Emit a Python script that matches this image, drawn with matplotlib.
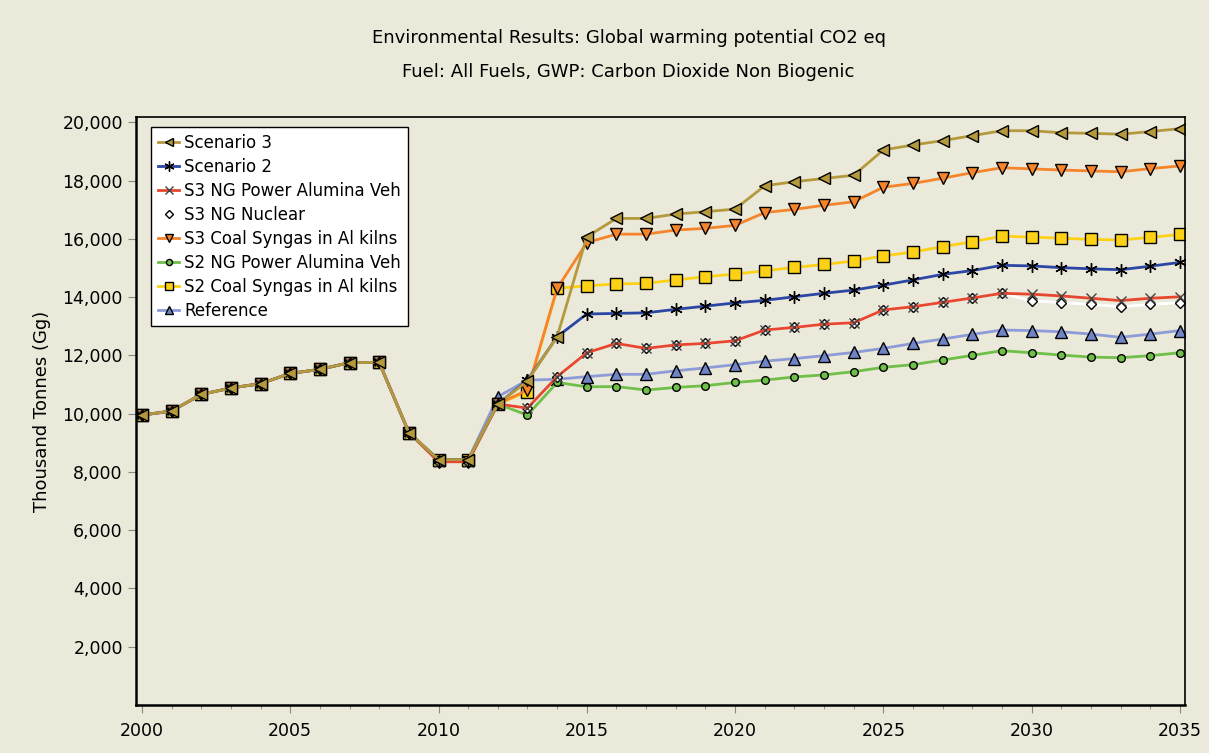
import matplotlib
matplotlib.use("Agg")
import matplotlib.pyplot as plt
from matplotlib.ticker import FuncFormatter, MultipleLocator

years = list(range(2000, 2036))

# shared history 2000-2011
base = [9950, 10090, 10660, 10880, 11030, 11380, 11520, 11750, 11760, 9350, 8420, 8420]

scenario3 = base + [10330, 11120, 12640, 16070, 16700, 16700, 16850, 16930, 17020, 17820,
                    17960, 18070, 18180, 19050, 19220, 19370, 19540, 19710, 19710, 19640,
                    19620, 19590, 19680, 19780]
scenario2 = base + [10330, 11150, 12640, 13420, 13440, 13460, 13580, 13690, 13800, 13890,
                    14010, 14130, 14240, 14410, 14590, 14780, 14910, 15090, 15070, 15010,
                    14970, 14940, 15060, 15190]
s3_ng_power = base[:10] + [8350, 8350] + [10330, 10190, 11270, 12090, 12410, 12240, 12360,
                                          12410, 12500, 12870, 12960, 13070, 13120, 13560,
                                          13670, 13820, 13970, 14130, 14100, 14040, 13960,
                                          13880, 13960, 14010]
s3_ng_nuclear = s3_ng_power[:30] + [13870, 13810, 13750, 13670, 13750, 13810]
s3_coal = base[:10] + [8350, 8350] + [10330, 10810, 14300, 15870, 16160, 16160, 16300, 16360,
                                      16460, 16900, 17010, 17150, 17270, 17770, 17900, 18080,
                                      18270, 18440, 18400, 18360, 18330, 18300, 18410, 18500]
s2_ng_power = base + [10330, 9950, 11070, 10920, 10930, 10810, 10900, 10960, 11070, 11150,
                      11260, 11330, 11440, 11590, 11680, 11840, 12000, 12160, 12090, 12010,
                      11940, 11920, 11990, 12090]
s2_coal = base + [10330, 10750, 14300, 14390, 14450, 14470, 14590, 14700, 14790, 14900,
                  15020, 15120, 15240, 15410, 15550, 15730, 15900, 16090, 16060, 16020,
                  15980, 15960, 16050, 16150]
reference = base + [10580, 11150, 11180, 11270, 11350, 11350, 11470, 11570, 11680, 11800,
                    11890, 11990, 12100, 12240, 12410, 12560, 12720, 12870, 12850, 12810,
                    12730, 12620, 12730, 12850]

bg = "#ebe9d9"
plt.rcParams["font.family"] = "DejaVu Sans"

fig = plt.figure(figsize=(12.09, 7.53), dpi=100, facecolor=bg)
ax = fig.add_axes([0.1125, 0.0637, 0.8676, 0.7809], facecolor=bg)

asterisk = (6, 2, 0)
# drawn bottom-up so Scenario 3 ends on top
series = [
    ("Reference", reference, "#8d9bd8", "^", "#6f84c6", 8),
    ("S2 Coal Syngas in Al kilns", s2_coal, "#fcd116", "s", "#fcd116", 8),
    ("S2 NG Power Alumina Veh", s2_ng_power, "#6fbf48", "o", "#6fbf48", 5.5),
    ("S3 Coal Syngas in Al kilns", s3_coal, "#f5842a", "v", "#f5842a", 8),
    ("S3 NG Nuclear", s3_ng_nuclear, "#ffffff", "D", "#ffffff", 5.5),
    ("S3 NG Power Alumina Veh", s3_ng_power, "#e6472e", "x", "none", 7),
    ("Scenario 2", scenario2, "#2b47a3", asterisk, "none", 9),
    ("Scenario 3", scenario3, "#b5993d", "<", "#b5993d", 8),
]

handles = {}
for name, vals, color, mk, face, ms in series:
    edge = "#444444" if mk == "x" else "black"
    ln, = ax.plot(years, vals, color=color, lw=2.0, marker=mk, markersize=ms,
                  markerfacecolor=face, markeredgecolor=edge, markeredgewidth=1.0,
                  label=name)
    handles[name] = ln

order = ["Scenario 3", "Scenario 2", "S3 NG Power Alumina Veh", "S3 NG Nuclear",
         "S3 Coal Syngas in Al kilns", "S2 NG Power Alumina Veh",
         "S2 Coal Syngas in Al kilns", "Reference"]
leg = ax.legend([handles[n] for n in order], order, loc="upper left",
                bbox_to_anchor=(0.0143, 0.983), borderaxespad=0, fontsize=12,
                fancybox=False, framealpha=1, edgecolor="black", handlelength=1.3,
                handletextpad=0.3, labelspacing=0.36, borderpad=0.4, markerscale=0.8)
leg.get_frame().set_linewidth(1.0)

ax.set_xlim(1999.8, 2035.17)
ax.set_ylim(0, 20180)
ax.xaxis.set_major_locator(MultipleLocator(5))
ax.xaxis.set_minor_locator(MultipleLocator(1))
ax.set_yticks(range(2000, 20001, 2000))
ax.yaxis.set_major_formatter(FuncFormatter(lambda v, p: f"{int(v):,}"))
ax.tick_params(axis="both", which="major", length=6, color="#888888", labelsize=12.5,
               direction="out")
ax.tick_params(axis="x", which="minor", length=3, color="#888888", direction="out")
ax.tick_params(axis="x", pad=6)

for side in ["left", "bottom"]:
    ax.spines[side].set_linewidth(1.8)
for side in ["top", "right"]:
    ax.spines[side].set_linewidth(1.2)

ax.set_ylabel("Thousand Tonnes (Gg)", fontsize=13, labelpad=8)
fig.text(0.52, 0.949, "Environmental Results: Global warming potential CO2 eq",
         ha="center", va="center", fontsize=13)
fig.text(0.52, 0.904, "Fuel: All Fuels, GWP: Carbon Dioxide Non Biogenic",
         ha="center", va="center", fontsize=13)

fig.savefig("out.png", dpi=100, facecolor=bg)
